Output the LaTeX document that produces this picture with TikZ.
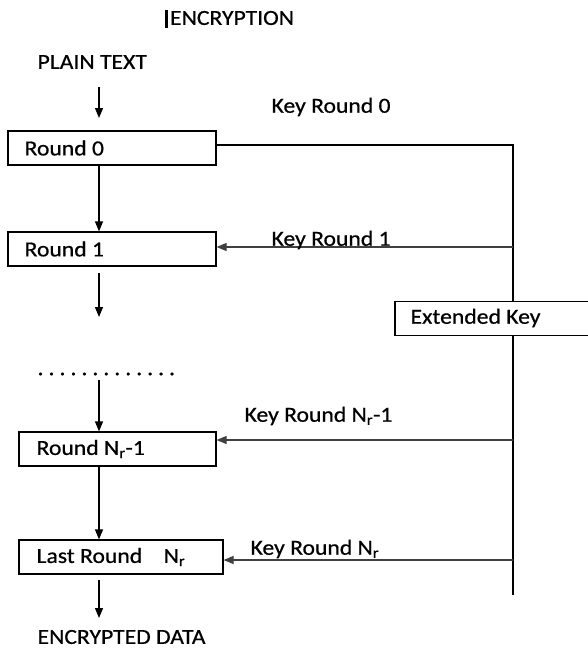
\documentclass[tikz,border=0pt]{standalone}
\usepackage{fontspec}
\setmainfont[FakeStretch=1.1,FakeBold=0.6]{Carlito}
\usetikzlibrary{arrows.meta}
\newcommand{\dotgap}{\hspace{5pt}}
\begin{document}
\begin{tikzpicture}[x=1pt,y=-1pt,
  line width=1.2pt,
  txt/.style={anchor=west,inner sep=0pt,font=\fontsize{21.5}{24}\selectfont},
  roundbox/.style={draw,rectangle,minimum height=34pt,inner sep=0pt},
  flow/.style={-{Triangle[length=10pt,width=8pt]}},
  keyline/.style={draw=black!75}]
\useasboundingbox (0,0) rectangle (588,654);

% title with its cursor bar
\draw[line width=2.6pt] (166.5,10) -- (166.5,28);
\node[txt] (title) at (169.5,18) {ENCRYPTION};

\node[txt] (plain) at (37,62) {PLAIN TEXT};
\coordinate (a0s) at (99,87);
\coordinate (a0e) at (99,118);
\draw[flow] (a0s) -- (a0e);

% round boxes
\node[roundbox,minimum width=208pt] (r0) at (112,148) {};
\node[txt] at (24,148) {Round 0};
\node[roundbox,minimum width=208pt] (r1) at (112,249) {};
\node[txt] at (24,249) {Round 1};
\node[roundbox,minimum width=197pt] (rn1) at (117.5,449) {};
\node[txt] at (36,449) {Round N\textsubscript{r}-1};
\node[roundbox,minimum width=204pt] (rl) at (121,557) {};
\node[txt] at (36,557) {Last Round\quad N\textsubscript{r}};

% extended key box, running off the right edge
\node[roundbox,minimum width=200pt] (ek) at (495,318.5) {};
\node[txt] at (410,318) {Extended Key};

% vertical flow
\draw[flow] (r0.south -| a0s) -- (r1.north -| a0s);
\coordinate (a2s) at (99,273);
\coordinate (a2e) at (99,317);
\draw[flow] (a2s) -- (a2e);
\node[txt] (dots) at (37,374) {.\dotgap.\dotgap.\dotgap.\dotgap.\dotgap.\dotgap.\dotgap.\dotgap.\dotgap.\dotgap.\dotgap.\dotgap.};
\coordinate (a3s) at (99,380);
\draw[flow] (a3s) -- (rn1.north -| a3s);
\draw[flow] (rn1.south -| a3s) -- (rl.north -| a3s);
\coordinate (a5s) at (99,580);
\coordinate (a5e) at (99,618);
\draw[flow] (a5s) -- (a5e);
\node[txt] (enc) at (37,637) {ENCRYPTED DATA};

% key distribution bus
\coordinate (bus0) at (513,145);
\coordinate (bus1) at (513,247);
\coordinate (bus2) at (513,440);
\coordinate (bus3) at (513,560);
\coordinate (busend) at (513,595);
\draw (r0.east |- bus0) -- (bus0) -- (ek.north -| bus0);
\draw (ek.south -| bus0) -- (busend);
\draw[flow,keyline] (bus1) -- (r1.east |- bus1);
\draw[flow,keyline] (bus2) -- (rn1.east |- bus2);
\draw[flow,keyline] (bus3) -- (rl.east |- bus3);

% key labels
\node[txt] (k0) at (271,107) {Key Round 0};
\node[txt] (k1) at (271,240) {Key Round 1};
\node[txt] (kn1) at (244,416) {Key Round N\textsubscript{r}-1};
\node[txt] (kn) at (250,549) {Key Round N\textsubscript{r}};
\end{tikzpicture}
\end{document}
